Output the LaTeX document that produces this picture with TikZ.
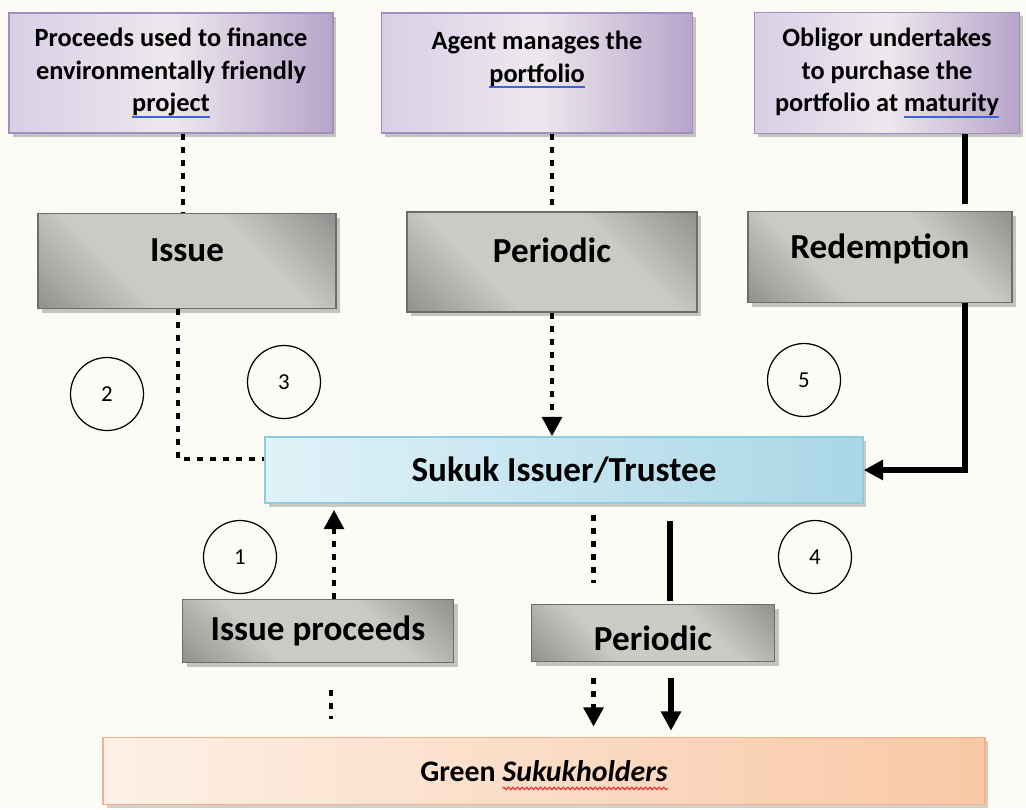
\documentclass[tikz,border=0pt]{standalone}
\usepackage{fontspec}
\setmainfont{Carlito}
\usepackage{xcolor}
\usetikzlibrary{arrows.meta,shadows,decorations.pathmorphing}

\definecolor{bgcream}{RGB}{252,251,246}
\definecolor{noteleft}{RGB}{216,207,230}
\definecolor{notemid}{RGB}{238,232,238}
\definecolor{noteright}{RGB}{184,164,203}
\definecolor{noteline}{RGB}{160,142,190}
\definecolor{greydark}{RGB}{105,105,105}
\definecolor{greylight}{RGB}{204,202,197}
\definecolor{greyline}{RGB}{108,108,108}
\definecolor{trustleft}{RGB}{224,242,248}
\definecolor{trustright}{RGB}{170,214,230}
\definecolor{trustline}{RGB}{145,204,221}
\definecolor{holdleft}{RGB}{253,240,230}
\definecolor{holdright}{RGB}{249,200,166}
\definecolor{holdline}{RGB}{244,177,131}
\definecolor{markblue}{RGB}{60,100,210}
\definecolor{markred}{RGB}{230,40,40}

\pgfdeclarehorizontalshading{stagefill}{100bp}{color(0bp)=(greydark); color(36bp)=(greylight);
	color(64bp)=(greylight); color(100bp)=(greydark)}

\newsavebox{\markbox}
\newcommand{\spellmark}[1]{\sbox{\markbox}{#1}\rlap{\color{markblue}\rule[-3.4pt]{\wd\markbox}{1.1pt}}\usebox{\markbox}}
\newcommand{\wavemark}[1]{\sbox{\markbox}{#1}\rlap{\tikz[overlay]\draw[markred, line width=0.6pt, decorate,
	decoration={snake, amplitude=0.7pt, segment length=2.6pt}] (0pt,-4pt) -- (\wd\markbox,-4pt);}\usebox{\markbox}}

\begin{document}
\begin{tikzpicture}[x=0.02cm, y=-0.02cm,
	notebox/.style={draw=noteline, line width=0.8pt, left color=noteleft, right color=noteright, middle color=notemid,
		drop shadow={shadow xshift=2pt, shadow yshift=-2pt, fill=black!45}, align=center,
		font=\fontsize{15}{18.5}\selectfont\bfseries},
	stagebox/.style={draw=greyline, line width=0.9pt, shading=stagefill, shading angle=45,
		drop shadow={shadow xshift=2.5pt, shadow yshift=-2.5pt, fill=black!45},
		font=\fontsize{20}{24}\selectfont\bfseries},
	trustbox/.style={draw=trustline, line width=0.9pt, left color=trustleft, right color=trustright,
		drop shadow={shadow xshift=2pt, shadow yshift=-2pt, fill=black!40},
		font=\fontsize{20}{24}\selectfont\bfseries},
	holderbox/.style={draw=holdline, line width=0.9pt, left color=holdleft, right color=holdright,
		drop shadow={shadow xshift=2pt, shadow yshift=-2pt, fill=black!35},
		font=\fontsize{17}{21}\selectfont\bfseries},
	stepno/.style={circle, draw, line width=0.7pt, minimum size=1.46cm, inner sep=0pt, font=\fontsize{13}{15}\selectfont},
	dotline/.style={line width=2.8pt, dash pattern=on 3.4pt off 4pt},
	solidline/.style={line width=3.2pt},
	tip/.style={-{Triangle[width=11pt,length=11pt]}}
	]
	\fill[bgcream] (0,0) rectangle (1026,809);
	\useasboundingbox (0,0) rectangle (1026,809);

	% top row: purpose of each stage
	\node[notebox, minimum width=6.48cm, minimum height=2.4cm] (notea) at (171,73)
		{Proceeds used to finance\\environmentally friendly\\\spellmark{project}};
	\node[notebox, minimum width=6.22cm, minimum height=2.4cm] (noteb) at (537,73)
		{Agent manages the\\\spellmark{portfolio}\\\mbox{}};
	\node[notebox, minimum width=5.3cm, minimum height=2.42cm] (notec) at (887,73)
		{Obligor undertakes\\to purchase the\\portfolio at \spellmark{maturity}};

	% stages
	\node[stagebox, minimum width=5.96cm, minimum height=1.9cm, text depth=12pt] (issue) at (187,261) {Issue};
	\node[stagebox, minimum width=5.8cm, minimum height=2cm, text depth=14pt] (periodic) at (552,262) {Periodic};
	\node[stagebox, minimum width=5.28cm, minimum height=1.82cm, text depth=12pt] (redemption) at (880,257) {Redemption};

	\node[trustbox, minimum width=11.96cm, minimum height=1.32cm] (trustee) at (564,470) {Sukuk Issuer/Trustee};

	\node[stagebox, minimum width=5.42cm, minimum height=1.26cm] (proceeds) at (318,631) {Issue proceeds};
	\node[stagebox, minimum width=4.86cm, minimum height=1.14cm, text height=20pt] (payout) at (653,633) {Periodic};

	\node[holderbox, minimum width=17.64cm, minimum height=1.34cm] (holders) at (544,771) {Green \wavemark{\textit{Sukukholders}}};

	% step numbers
	\node[stepno] (stepa) at (240,557) {1};
	\node[stepno] (stepb) at (107,394) {2};
	\node[stepno] (stepc) at (284,382) {3};
	\node[stepno] (stepd) at (815,557) {4};
	\node[stepno] (stepe) at (804,380) {5};

	% connectors
	\draw[dotline] ([xshift=-0.08cm]issue.north |- notea.south) -- ([xshift=-0.08cm]issue.north);
	\draw[dotline] ([xshift=-0.18cm]issue.south) |- ([yshift=0.22cm]trustee.west);
	\draw[dotline] (periodic.north |- noteb.south) -- (periodic.north);
	\draw[dotline, tip] (periodic.south) -- (periodic.south |- trustee.north);
	\draw[solidline, shorten >=0.14cm] ([xshift=1.7cm]redemption.north |- notec.south) -- ([xshift=1.7cm]redemption.north);
	\draw[solidline, tip] ([xshift=1.7cm]redemption.south) |- (trustee.east);

	\draw[dotline, tip, shorten >=0.12cm] ([xshift=0.32cm]proceeds.north) -- ([xshift=0.32cm]proceeds.north |- trustee.south);
	\draw[dotline, shorten <=0.22cm, shorten >=0.42cm] ([xshift=-1.19cm]payout.north |- trustee.south) -- ([xshift=-1.19cm]payout.north);
	\draw[solidline, shorten <=0.34cm, shorten >=0.06cm] ([xshift=0.34cm]payout.north |- trustee.south) -- ([xshift=0.34cm]payout.north);

	\draw[dotline, shorten <=0.54cm, shorten >=0.36cm] ([xshift=0.26cm]proceeds.south) -- ([xshift=0.26cm]proceeds.south |- holders.north);
	\draw[dotline, tip, shorten <=0.32cm, shorten >=0.2cm] ([xshift=-1.19cm]payout.south) -- ([xshift=-1.19cm]payout.south |- holders.north);
	\draw[solidline, tip, shorten <=0.32cm, shorten >=0.12cm] ([xshift=0.36cm]payout.south) -- ([xshift=0.36cm]payout.south |- holders.north);
\end{tikzpicture}
\end{document}
